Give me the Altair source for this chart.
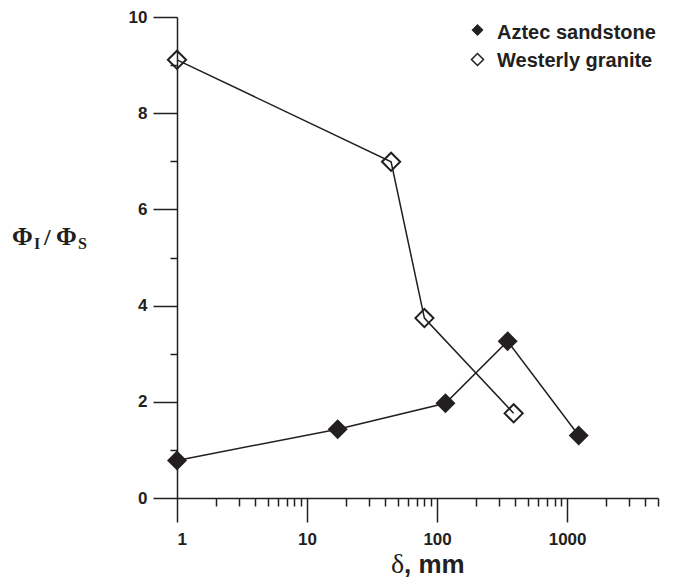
import altair as alt
import pandas as pd

# ---- data ----
aztec_x = [1, 17.2, 116, 349, 1228]
aztec_y = [0.78, 1.43, 1.97, 3.26, 1.30]
granite_x = [1, 44.3, 79.9, 388]
granite_y = [9.11, 6.99, 3.74, 1.76]

x_major = [1, 10, 100, 1000]
x_ticks = [1, 2, 3, 4, 5, 6, 7, 8, 9,
           10, 20, 30, 40, 50, 60, 70, 80, 90,
           100, 200, 300, 400, 500, 600, 700, 800, 900,
           1000, 2000, 3000, 4000, 5000]
y_ticks = [0, 1, 2, 3, 4, 5, 6, 7, 8, 9, 10]

INK = "#231f20"
SANS = "Liberation Sans"
SERIF = "Liberation Serif"

aztec = pd.DataFrame({"x": aztec_x, "y": aztec_y})
granite = pd.DataFrame({"x": granite_x, "y": granite_y})
one = pd.DataFrame({"t": [0]})

xscale = alt.Scale(type="log", domain=[1, 5000], nice=False)
yscale = alt.Scale(domain=[0, 10], nice=False, zero=True)

major_test = "indexof([1,10,100,1000], datum.value) >= 0"
x_axis = alt.Axis(
    values=x_ticks, title=None, grid=False, format="d",
    tickSize={"condition": {"test": major_test, "value": 24}, "value": 8},
    labelExpr=f"{major_test} ? datum.label : ''",
    labelOverlap=False, labelPadding=9,
    labelFont=SANS, labelFontWeight="bold", labelFontSize=17, labelColor=INK,
    domainColor=INK, domainWidth=1.5, tickColor=INK, tickWidth=1.5,
)
y_axis = alt.Axis(
    values=y_ticks, title=None, grid=False,
    tickSize={"condition": {"test": "datum.value % 2 == 0", "value": 24}, "value": 7},
    labelExpr="datum.value % 2 == 0 ? datum.label : ''",
    labelOverlap=False, labelPadding=6,
    labelFont=SANS, labelFontWeight="bold", labelFontSize=17, labelColor=INK,
    domainColor=INK, domainWidth=1.5, tickColor=INK, tickWidth=1.5,
)

X = alt.X("x:Q", scale=xscale, axis=x_axis)
Y = alt.Y("y:Q", scale=yscale, axis=y_axis)

az_line = alt.Chart(aztec).mark_line(color=INK, strokeWidth=1.5).encode(x=X, y=Y)
gr_line = alt.Chart(granite).mark_line(color=INK, strokeWidth=1.5).encode(x=X, y=Y)
az_pts = alt.Chart(aztec).mark_point(
    shape="diamond", filled=True, size=400, color=INK, opacity=1
).encode(x=X, y=Y)
gr_pts = alt.Chart(granite).mark_point(
    shape="diamond", filled=False, size=330, color=INK, strokeWidth=2, opacity=1
).encode(x=X, y=Y)


def txt(s, x, y, font, size, weight="normal"):
    return alt.Chart(one).mark_text(
        text=s, font=font, fontSize=size, fontWeight=weight, color=INK,
        align="left", baseline="alphabetic"
    ).encode(x=alt.value(x), y=alt.value(y))


def sym(x, y, filled):
    return alt.Chart(one).mark_point(
        shape="diamond", filled=filled, size=144, color=INK,
        strokeWidth=1.5, opacity=1
    ).encode(x=alt.value(x), y=alt.value(y))


labels = [
    # y title  Φ_I / Φ_S
    txt("Φ", -165, 228, SERIF, 25, "bold"),
    txt("I", -143, 232, SERIF, 16, "bold"),
    txt("/", -133, 228, SERIF, 24, "bold"),
    txt("Φ", -121, 228, SERIF, 25, "bold"),
    txt("S", -99, 232, SERIF, 16, "bold"),
    # x title
    txt("δ", 214, 556, SERIF, 28),
    txt(", mm", 227, 556, SANS, 26, "bold"),
    # legend
    sym(300.5, 13, True),
    sym(300.5, 42.5, False),
    txt("Aztec sandstone", 320, 21.5, SANS, 20, "bold"),
    txt("Westerly granite", 320, 49.5, SANS, 20, "bold"),
]

chart = alt.layer(
    az_line, gr_line, az_pts, gr_pts, *labels
).properties(
    width=481, height=481,
    autosize=alt.AutoSizeParams(type="none"),
    padding={"left": 177, "top": 17, "right": 15, "bottom": 85},
    background="white",
).configure_view(strokeWidth=0)

chart.save("out.html", embed_options={"renderer": "svg", "actions": False})
